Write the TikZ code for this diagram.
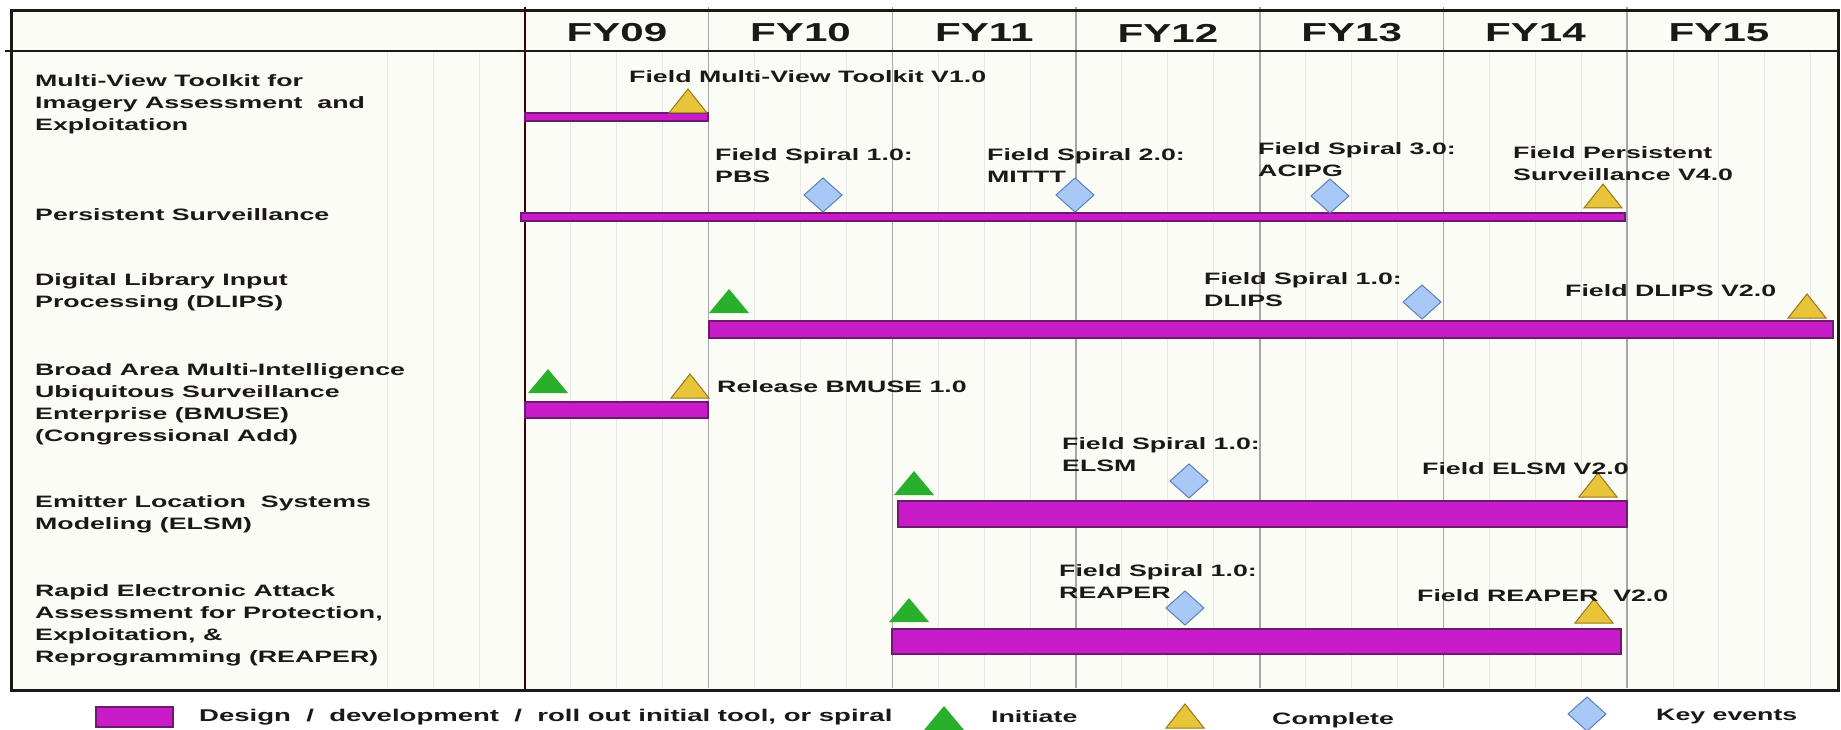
\documentclass[tikz,border=0pt]{standalone}
\usepackage{fontspec}
\setmainfont{Liberation Sans}[FakeStretch=1.62]

\definecolor{ink}{RGB}{28,24,22}
\definecolor{paper}{RGB}{252,252,246}
\definecolor{barfill}{RGB}{200,28,200}
\definecolor{barline}{RGB}{110,24,110}
\definecolor{initgreen}{RGB}{40,176,45}
\definecolor{compgold}{RGB}{232,196,56}
\definecolor{compline}{RGB}{150,118,30}
\definecolor{keyfill}{RGB}{168,200,246}
\definecolor{keyline}{RGB}{92,128,184}

\begin{document}
\begin{tikzpicture}[x=1pt,y=-1pt,
    txt/.style={anchor=west, inner sep=0pt, align=left, text=ink,
      font=\fontsize{16.5}{22}\selectfont\bfseries},
    year/.style={inner sep=0pt, text=ink, font=\fontsize{26}{30}\selectfont\bfseries},
    bar/.style={fill=barfill, draw=barline, line width=1.2pt},
    initiate/.style={fill=initgreen},
    complete/.style={fill=compgold, draw=compline, line width=1pt},
    keyevent/.style={fill=keyfill, draw=keyline, line width=1pt},
    yearline/.style={draw=black!35, line width=1.5pt},
    quarter/.style={draw=black!9, line width=1pt}]
    \useasboundingbox (0,0) rectangle (1841,730);
    \fill[white] (0,0) rectangle (1841,730);
    \fill[paper] (11,11) rectangle (1838,690);

    % grid
    \foreach \q in {-3,...,28}
      \draw[quarter] ({525+45.92*\q},51) -- ({525+45.92*\q},688);
    \foreach \k in {1,...,6}
      \draw[yearline] ({525+183.7*\k},7) -- ({525+183.7*\k},688);
    \draw[draw=black!75!red, line width=2pt] (525,7) -- (525,690);
    \draw[ink, line width=2pt] (5,51) -- (1838,51);
    \draw[ink, line width=3pt] (11,11) rectangle (1838,690);

    \foreach \yr [count=\k from 0] in {FY09,FY10,FY11,FY12,FY13,FY14,FY15}
      \node[year] (\yr) at ({525+183.7*(\k+0.5)},33) {\yr};

    % programmes
    \node[txt] (mvt) at (35,104) {Multi-View Toolkit for\\Imagery Assessment\ \ and\\Exploitation};
    \node[txt] (ps) at (35,215) {Persistent Surveillance};
    \node[txt] (dlips) at (35,292) {Digital Library Input\\Processing (DLIPS)};
    \node[txt] (bmuse) at (35,404) {Broad Area Multi-Intelligence\\Ubiquitous Surveillance\\Enterprise (BMUSE)\\(Congressional Add)};
    \node[txt] (elsm) at (35,514) {Emitter Location\ \ Systems\\Modeling (ELSM)};
    \node[txt] (reaper) at (35,625) {Rapid Electronic Attack\\Assessment for Protection,\\Exploitation, \&\\Reprogramming (REAPER)};

    % bars
    \filldraw[bar] (525,113) rectangle (708,121);
    \filldraw[bar] (521,213) rectangle (1625,221);
    \filldraw[bar] (709,321) rectangle (1833,338);
    \filldraw[bar] (525,402) rectangle (708,418);
    \filldraw[bar] (898,501) rectangle (1627,527);
    \filldraw[bar] (892,629) rectangle (1621,654);
    \filldraw[bar] (96,707) rectangle (173,727);

    % markers
    \foreach \x/\y in {729/313, 548/393, 914/495, 909/622, 944/730}
      \fill[initiate] (\x-20,\y) -- (\x+20,\y) -- (\x,\y-24) -- cycle;
    \foreach \x/\y in {688/113, 1603/208, 1807/318, 690/398, 1598/497, 1594/623, 1185/728}
      \filldraw[complete] (\x-19,\y) -- (\x+19,\y) -- (\x,\y-24) -- cycle;
    \foreach \x/\y in {823/195, 1075/195, 1330/196, 1422/302, 1189/481, 1185/608, 1587/714}
      \filldraw[keyevent] (\x-19,\y) -- (\x,\y-17) -- (\x+19,\y) -- (\x,\y+17) -- cycle;

    % events
    \node[txt] (e1) at (629,77) {Field Multi-View Toolkit V1.0};
    \node[txt] (e2) at (715,166) {Field Spiral 1.0:\\PBS};
    \node[txt] (e3) at (987,166) {Field Spiral 2.0:\\MITTT};
    \node[txt] (e4) at (1258,160) {Field Spiral 3.0:\\ACIPG};
    \node[txt] (e5) at (1513,164) {Field Persistent\\Surveillance V4.0};
    \node[txt] (e6) at (1204,290) {Field Spiral 1.0:\\DLIPS};
    \node[txt] (e7) at (1565,291) {Field DLIPS V2.0};
    \node[txt] (e8) at (717,387) {Release BMUSE 1.0};
    \node[txt] (e9) at (1062,455) {Field Spiral 1.0:\\ELSM};
    \node[txt] (e10) at (1422,469) {Field ELSM V2.0};
    \node[txt] (e11) at (1059,582) {Field Spiral 1.0:\\REAPER};
    \node[txt] (e12) at (1417,596) {Field REAPER\ \ V2.0};

    % legend
    \node[txt, font=\fontsize{17}{22}\selectfont\bfseries] (lbar) at (199,717)
      {Design\ \ /\ \ development\ \ /\ \ roll out initial tool, or spiral};
    \node[txt] (linit) at (991,717) {Initiate};
    \node[txt] (lcomp) at (1272,720) {Complete};
    \node[txt] (lkey) at (1656,717) {Key events};
  \end{tikzpicture}
\end{document}
